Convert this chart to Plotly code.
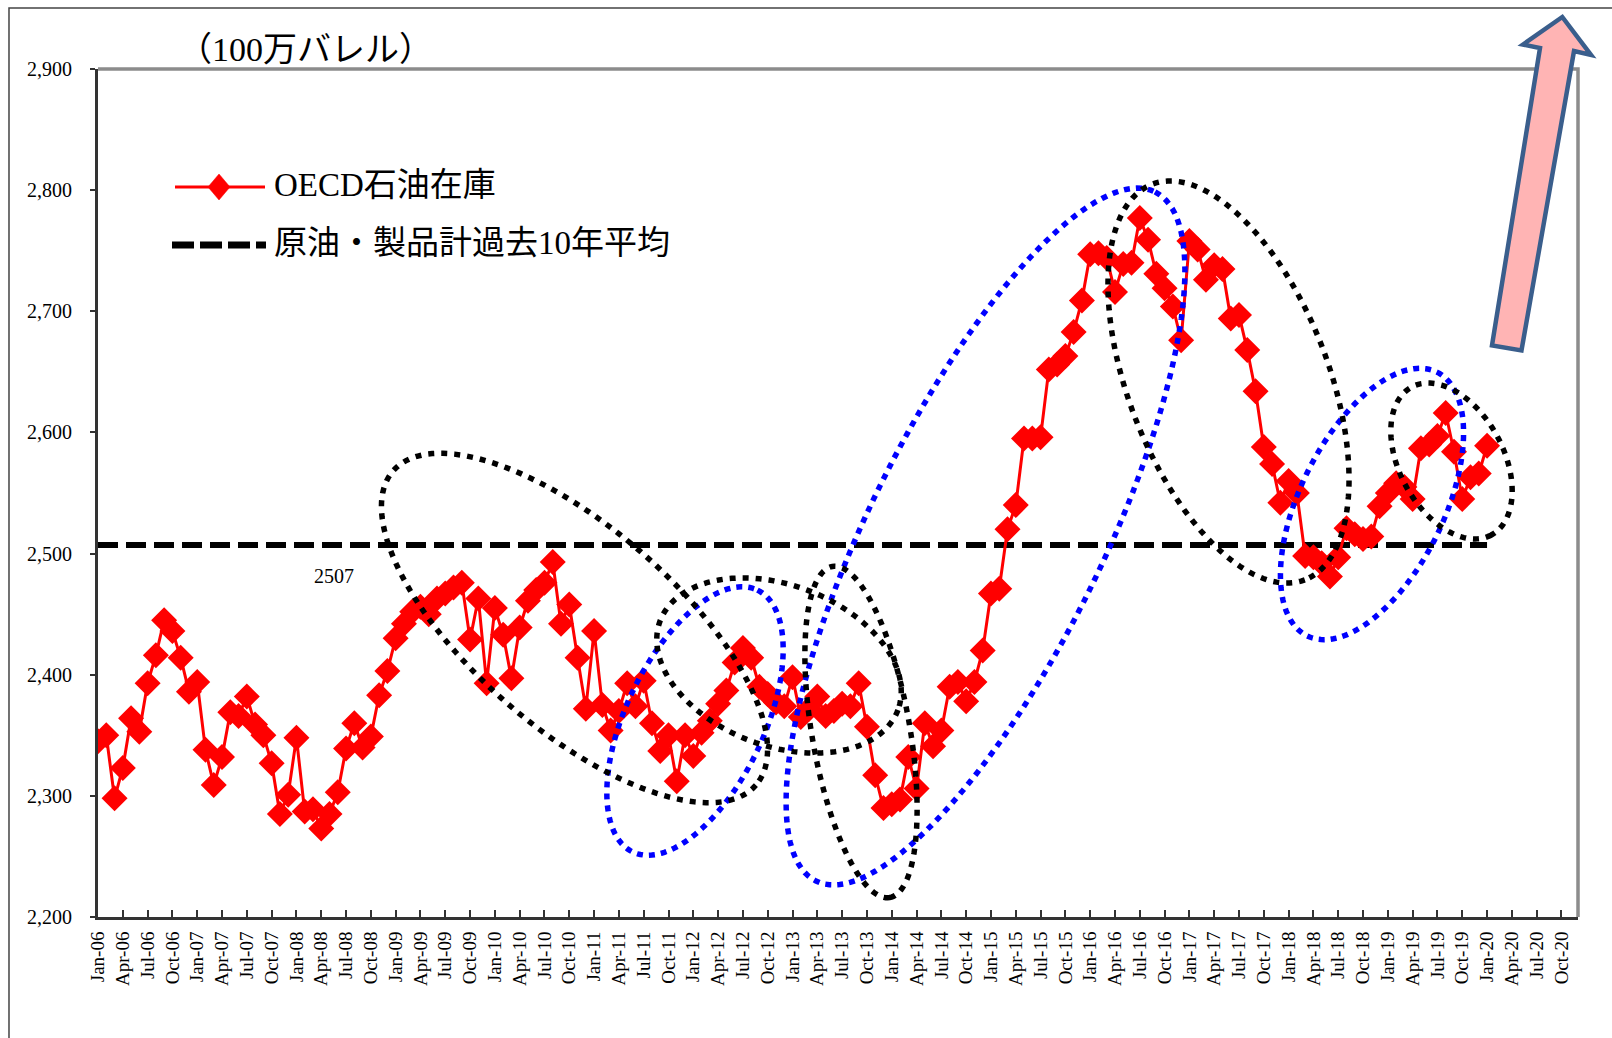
import numpy as np
import plotly.graph_objects as go

# ---------------- data ----------------
month_abbr = ["Jan", "Feb", "Mar", "Apr", "May", "Jun",
              "Jul", "Aug", "Sep", "Oct", "Nov", "Dec"]
years = list(range(2006, 2021))
categories = [f"{m}-{y % 100:02d}" for y in years for m in month_abbr]  # Jan-06 .. Dec-20

oecd_stocks = [
    # 2006
    2345, 2350, 2298, 2323, 2364, 2353, 2393, 2416, 2445, 2436, 2414, 2386,
    # 2007
    2394, 2338, 2309, 2332, 2369, 2366, 2382, 2359, 2350, 2327, 2285, 2301,
    # 2008
    2348, 2287, 2289, 2273, 2285, 2303, 2339, 2360, 2340, 2349, 2383, 2403,
    # 2009
    2430, 2442, 2452, 2456, 2450, 2463, 2467, 2472, 2476, 2429, 2463, 2393,
    # 2010
    2455, 2433, 2397, 2439, 2461, 2470, 2476, 2493, 2442, 2458, 2414, 2372,
    # 2011
    2436, 2375, 2354, 2370, 2393, 2374, 2395, 2360, 2337, 2350, 2312, 2350,
    # 2012
    2333, 2352, 2362, 2376, 2387, 2410, 2422, 2414, 2390, 2384, 2377, 2374,
    # 2013
    2398, 2365, 2372, 2382, 2366, 2370, 2376, 2374, 2393, 2357, 2317, 2290,
    # 2014
    2293, 2297, 2332, 2306, 2360, 2341, 2354, 2390, 2394, 2378, 2394, 2420,
    # 2015
    2467, 2471, 2520, 2540, 2595, 2595, 2596, 2652, 2656, 2663, 2683, 2709,
    # 2016
    2747, 2748, 2744, 2716, 2739, 2740, 2777, 2759, 2731, 2719, 2704, 2676,
    # 2017
    2758, 2751, 2726, 2738, 2735, 2694, 2697, 2668, 2634, 2588, 2574, 2542,
    # 2018
    2560, 2550, 2498, 2497, 2492, 2481, 2497, 2521, 2516, 2512, 2514, 2539,
    # 2019
    2550, 2558, 2555, 2545, 2587, 2590, 2597, 2616, 2584, 2545, 2563, 2566,
    # 2020
    2589,
]
avg_10yr_value = 2507
avg_10yr = [avg_10yr_value] * len(oecd_stocks)

tick_step = 3
tick_idx = list(range(0, len(categories), tick_step))
tick_labels = [categories[i] for i in tick_idx]

y_ticks = [2200, 2300, 2400, 2500, 2600, 2700, 2800, 2900]

unit_label = "（100万バレル）"
legend_stock = "OECD石油在庫"
legend_avg = "原油・製品計過去10年平均"

# ---------------- layout geometry (pixels) ----------------
W, H = 1612, 1038
L, R, T, B = 98, 1578, 69, 917

def pp(x, y):
    """pixel -> paper coordinates"""
    return (x - L) / (R - L), (B - y) / (B - T)

def path_from_pixels(pts, close=True):
    s = ""
    for i, (x, y) in enumerate(pts):
        px_, py_ = pp(x, y)
        s += ("M" if i == 0 else "L") + f"{px_:.5f},{py_:.5f} "
    return s + ("Z" if close else "")

def ellipse_path(cx, cy, a, b, theta_deg, n=160):
    th = np.deg2rad(theta_deg)
    t = np.linspace(0, 2 * np.pi, n, endpoint=False)
    xs = cx + a * np.cos(t) * np.cos(th) - b * np.sin(t) * np.sin(th)
    ys = cy + a * np.cos(t) * np.sin(th) + b * np.sin(t) * np.cos(th)
    return path_from_pixels(list(zip(xs, ys)))

serif = "Liberation Serif, Times New Roman, serif"
mixed = "Liberation Serif, Noto Sans CJK JP, serif"

x_idx = list(range(len(oecd_stocks)))

fig = go.Figure()
fig.add_trace(go.Scatter(
    x=x_idx, y=avg_10yr, mode="lines",
    line=dict(color="black", width=6, dash="20px,8px"),
    hoverinfo="skip", showlegend=False))
fig.add_trace(go.Scatter(
    x=x_idx, y=oecd_stocks, mode="lines+markers",
    line=dict(color="#FF0000", width=3),
    marker=dict(symbol="diamond", size=20, color="#FF0000", line=dict(width=0)),
    showlegend=False))

shapes = []
# ellipses (annotation highlights)
black_ellipses = [
    (574.5, 628, 240, 101, 40.9),
    (779, 665.5, 127, 80.5, 20.5),
    (861, 732, 168, 49, 80.2),
    (1228.5, 382, 212, 100, 68.9),
    (1451.5, 461, 84, 52, 61.7),
]
blue_ellipses = [
    (695, 721, 145, 69, -64.5),
    (985.5, 536.5, 384, 117, -63.8),
    (1372, 504, 147, 72, -63.8),
]
for e in blue_ellipses:
    shapes.append(dict(type="path", xref="paper", yref="paper", path=ellipse_path(*e),
                       line=dict(color="#0000FF", width=5.5, dash="6px,6px")))
for e in black_ellipses:
    shapes.append(dict(type="path", xref="paper", yref="paper", path=ellipse_path(*e),
                       line=dict(color="black", width=5.5, dash="6px,7px")))

# plot frame top/right (gray)
shapes.append(dict(type="path", xref="paper", yref="paper",
                   path=path_from_pixels([(L, T), (R, T), (R, B)], close=False),
                   line=dict(color="#8C8C8C", width=3.5)))
# outer chart frame (top and left edges visible)
shapes.append(dict(type="path", xref="paper", yref="paper",
                   path=path_from_pixels([(9, 1040), (9, 8), (1614, 8)], close=False),
                   line=dict(color="#444444", width=1.5)))

# arrow
arrow_pts = [(1562.3, 17), (1591, 55), (1574, 51), (1521.5, 350.5),
             (1492, 345.5), (1540, 48), (1523, 44.5)]
shapes.append(dict(type="path", xref="paper", yref="paper", path=path_from_pixels(arrow_pts),
                   fillcolor="#FFB4B4", line=dict(color="#3A5E8C", width=4.5)))

# legend symbols
shapes.append(dict(type="path", xref="paper", yref="paper",
                   path=path_from_pixels([(175, 187), (265, 187)], close=False),
                   line=dict(color="#FF0000", width=3)))
dx, dy = 11, 13
shapes.append(dict(type="path", xref="paper", yref="paper",
                   path=path_from_pixels([(219, 187 - dy), (219 + dx, 187), (219, 187 + dy), (219 - dx, 187)]),
                   fillcolor="#FF0000", line=dict(color="#FF0000", width=0.5)))
shapes.append(dict(type="path", xref="paper", yref="paper",
                   path=path_from_pixels([(172, 245), (266, 245)], close=False),
                   line=dict(color="black", width=7, dash="22px,6px")))

annotations = []
ux, uy = pp(305, 50)
annotations.append(dict(x=ux, y=uy, xref="paper", yref="paper", text=unit_label,
                        showarrow=False, font=dict(family=mixed, size=34, color="black"),
                        xanchor="center", yanchor="middle"))
lx, ly = pp(272, 185)
annotations.append(dict(x=lx, y=ly, xref="paper", yref="paper", text=legend_stock,
                        showarrow=False, font=dict(family=mixed, size=33, color="black"),
                        xanchor="left", yanchor="middle"))
lx, ly = pp(272, 243)
annotations.append(dict(x=lx, y=ly, xref="paper", yref="paper", text=legend_avg,
                        showarrow=False, font=dict(family=mixed, size=33, color="black"),
                        xanchor="left", yanchor="middle"))
annotations.append(dict(x=(334 - L) / (R - L) * (len(categories) - 1), y=avg_10yr_value,
                        xref="x", yref="y", text=str(avg_10yr_value), showarrow=False,
                        yshift=-31, font=dict(family=serif, size=20, color="black"),
                        xanchor="center", yanchor="middle"))

fig.update_layout(
    width=W, height=H, autosize=False,
    margin=dict(l=L, r=W - R, t=T, b=H - B, pad=0),
    paper_bgcolor="white", plot_bgcolor="white",
    showlegend=False,
    shapes=shapes, annotations=annotations,
    xaxis=dict(range=[0, len(categories) - 1], tickmode="array", tickvals=tick_idx,
               ticktext=tick_labels, tickangle=-90, ticks="inside", ticklen=7,
               tickwidth=1.5, tickcolor="#333333", showgrid=False, zeroline=False,
               showline=True, linecolor="#333333", linewidth=3,
               tickfont=dict(family=serif, size=19, color="black"),
               ticklabelstandoff=4),
    yaxis=dict(range=[2200, 2900], tickmode="array", tickvals=y_ticks,
               tickformat=",d", ticks="outside", ticklen=5, tickwidth=1.5,
               tickcolor="#333333", showgrid=False, zeroline=False,
               showline=True, linecolor="#333333", linewidth=3,
               tickfont=dict(family=serif, size=20, color="black"),
               ticklabelstandoff=14),
)

fig.write_html("out.html", config={"displayModeBar": False})
